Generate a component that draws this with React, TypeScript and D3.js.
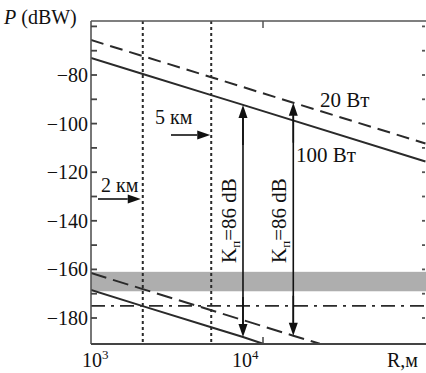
import { useMemo } from 'react'
import * as d3 from 'd3'

// range R (m) and received power P (dBW)
const R_TOP = [1000, 2000, 5000, 15000, 88000]
const P_20W_TOP = [-65.6, -72.2, -80.9, -91.4, -108.2]
const R_TOP_SOLID = [1000, 2000, 5000, 7650, 88000]
const P_100W_TOP = [-73.0, -79.6, -88.3, -92.3, -115.6]
const R_LOW_SOLID = [1000, 2000, 5000, 7650, 10000]
const P_100W_LOW = [-168.5, -175.1, -183.8, -187.8, -190.6]
const R_LOW_DASH = [1000, 2000, 5000, 15000, 21400]
const P_20W_LOW = [-161.5, -168.1, -176.8, -187.3, -190.6]

const DIST_MARKS = [2000, 5000]
const DIST_LABELS = ['2 км', '5 км']
const BAND = [-161, -169]
const THRESHOLD = -175
// arrows: [R, top P, bottom P]
const GAIN_ARROWS: [number, number, number][] = [
  [7650, -92.3, -187.8],
  [15000, -91.4, -187.3],
]
const Y_TICKS = d3.range(-190, -59, 10)
const Y_LABELS = [-80, -100, -120, -140, -160, -180]
const X_TICKS = [1e3, 1e4]

const W = 426, H = 373
const M = { l: 91, t: 21, r: 425, b: 344 }
const INK = '#2a2a2a'
// serif text everywhere
const T = { fontFamily: 'Liberation Serif, Times New Roman, Times, serif', fill: '#111' }

function Arrow({ x1, y1, x2, y2 }: { x1: number; y1: number; x2: number; y2: number }) {
  const a = Math.atan2(y2 - y1, x2 - x1)
  const L = 13, hw = 4.5
  const bx = x2 - L * Math.cos(a), by = y2 - L * Math.sin(a)
  const px = -Math.sin(a) * hw, py = Math.cos(a) * hw
  return (
    <g>
      <line x1={x1} y1={y1} x2={bx} y2={by} stroke="#111" strokeWidth={1.6} />
      <path d={`M${x2},${y2}L${bx + px},${by + py}L${bx - px},${by - py}Z`} fill="#111" />
    </g>
  )
}

export default function App() {
  const x = useMemo(() => d3.scaleLog().domain([1e3, 10 ** (3 + (M.r - M.l) / 172)]).range([M.l, M.r]), [])
  const y = useMemo(() => d3.scaleLinear().domain([-80, -180]).range([75, 318]), [])
  const line = (rs: number[], ps: number[]) =>
    d3.line<number>().x((_, i) => x(rs[i])).y((p) => y(p))(ps) ?? ''

  return (
    <div>
      <style>{`body{margin:0}`}</style>
      <svg width={W} height={H} style={{ display: 'block', background: '#fff' }}>
        <defs>
          <clipPath id="plot"><rect x={M.l} y={M.t} width={M.r - M.l + 2} height={M.b - M.t} /></clipPath>
        </defs>

        <g clipPath="url(#plot)">
          <rect x={M.l} y={y(BAND[0])} width={W - M.l} height={y(BAND[1]) - y(BAND[0])} fill="#aeaeae" />
          <line x1={M.l} x2={W} y1={y(THRESHOLD)} y2={y(THRESHOLD)} stroke={INK} strokeWidth={1.8} strokeDasharray="14 6 3 6" />
          {DIST_MARKS.map((r) => (
            <line key={r} x1={x(r)} x2={x(r)} y1={M.t} y2={M.b} stroke={INK} strokeWidth={2} strokeDasharray="3 3" />
          ))}
          <path d={line(R_TOP, P_20W_TOP)} fill="none" stroke={INK} strokeWidth={2} strokeDasharray="13 7" />
          <path d={line(R_TOP_SOLID, P_100W_TOP)} fill="none" stroke={INK} strokeWidth={2} />
          <path d={line(R_LOW_DASH, P_20W_LOW)} fill="none" stroke={INK} strokeWidth={2} strokeDasharray="16 7" />
          <path d={line(R_LOW_SOLID, P_100W_LOW)} fill="none" stroke={INK} strokeWidth={2} />
        </g>

        {/* frame */}
        <line x1={M.l} x2={M.l} y1={M.t} y2={M.b} stroke="#555" strokeWidth={1.6} />
        <line x1={M.l} x2={W} y1={M.t} y2={M.t} stroke="#555" strokeWidth={1.6} />
        <line x1={M.l} x2={W} y1={M.b} y2={M.b} stroke="#444" strokeWidth={1.8} />
        {Y_TICKS.filter((t) => y(t) > M.t + 2 && y(t) < M.b - 2).map((t) => (
          <g key={t}>
            <line x1={M.l} x2={M.l + 6} y1={y(t)} y2={y(t)} stroke="#444" strokeWidth={1.8} />
            <line x1={M.r - 3} x2={M.r} y1={y(t)} y2={y(t)} stroke="#555" strokeWidth={1.8} />
          </g>
        ))}
        {Y_LABELS.map((t) => (
          <text key={t} {...T} x={88} y={y(t)} dy="0.35em" textAnchor="end" fontSize={20}>
            {'\u2212' + Math.abs(t)}
          </text>
        ))}
        {X_TICKS.map((t) => (
          <g key={t}>
            {t > 1e3 && <line x1={x(t)} x2={x(t)} y1={M.t} y2={M.t + 7} stroke="#555" strokeWidth={1.5} />}
            {t > 1e3 && <line x1={x(t)} x2={x(t)} y1={M.b} y2={M.b - 7} stroke="#444" strokeWidth={1.5} />}
            <text {...T} x={x(t) + (t > 1e3 ? -31 : -9)} y={367} fontSize={20}>
              10<tspan dy={-8} fontSize={13}>{Math.log10(t)}</tspan>
            </text>
          </g>
        ))}
        <text {...T} x={387} y={367} fontSize={20}>R,м</text>
        <text {...T} x={4} y={24} fontSize={20}>
          <tspan fontStyle="italic">P</tspan> (dBW)
        </text>

        {/* distance markers */}
        <text {...T} x={101} y={192} fontSize={20}>{DIST_LABELS[0]}</text>
        <Arrow x1={98} y1={199} x2={x(DIST_MARKS[0]) - 2} y2={199} />
        <text {...T} x={155} y={124} fontSize={20}>{DIST_LABELS[1]}</text>
        <Arrow x1={171} y1={135} x2={x(DIST_MARKS[1]) - 1} y2={135} />

        {/* loss arrows */}
        {GAIN_ARROWS.map(([r, pt, pb]) => (
          <g key={r}>
            <line x1={x(r)} x2={x(r)} y1={y(pt) + 12} y2={y(pb) - 12} stroke="#111" strokeWidth={1.6} />
            <Arrow x1={x(r)} y1={y(pt) + 40} x2={x(r)} y2={y(pt)} />
            <Arrow x1={x(r)} y1={y(pb) - 40} x2={x(r)} y2={y(pb)} />
            <text {...T} transform={`translate(${x(r) - 7},263) rotate(-90)`} fontSize={21}>
              K<tspan dy={4} fontSize={13}>п</tspan><tspan dy={-4}>=86 dB</tspan>
            </text>
          </g>
        ))}

        <text {...T} x={320} y={107} fontSize={21}>20 Вт</text>
        <text {...T} x={296} y={162} fontSize={21}>100 Вт</text>
      </svg>
    </div>
  )
}
